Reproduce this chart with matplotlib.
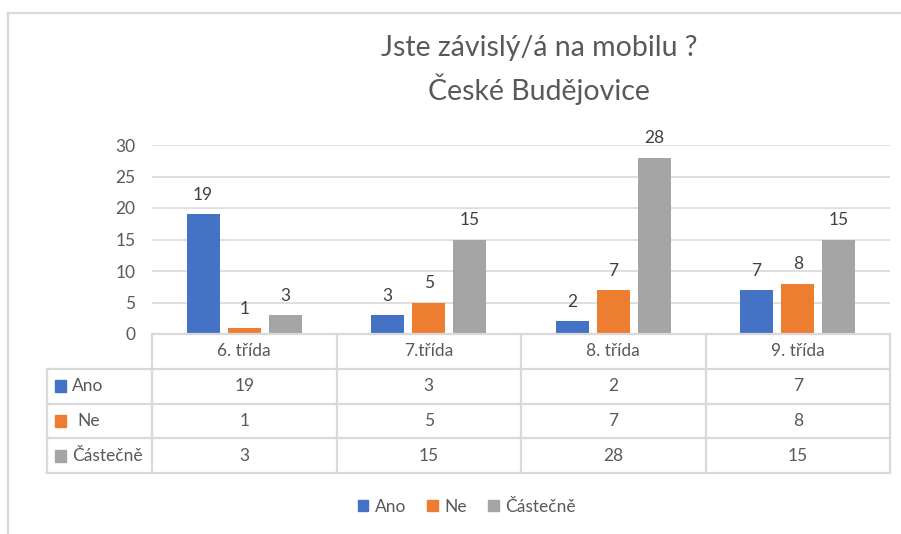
import matplotlib
matplotlib.use("Agg")
import matplotlib.pyplot as plt
from matplotlib.patches import Patch, Rectangle
from matplotlib.lines import Line2D
import numpy as np

categories = ["6. třída", "7.třída", "8. třída", "9. třída"]
series_names = ["Ano", "Ne", "Částečně"]
ano = [19, 3, 2, 7]
ne = [1, 5, 7, 8]
castecne = [3, 15, 28, 15]
yticks = [0, 5, 10, 15, 20, 25, 30]
title = "Jste závislý/á na mobilu ?\nČeské Budějovice"

colors = ["#4472C4", "#ED7D31", "#A5A5A5"]
txt = "#595959"
grid_c = "#D9D9D9"
FONT = ["Lato", "DejaVu Sans"]
plt.rcParams["font.family"] = FONT

W, H = 901, 534
fig = plt.figure(figsize=(W / 100, H / 100), dpi=100)
fig.patch.set_facecolor("white")

def fx(px):
    return px / W

def fy(py):
    return 1 - py / H

# chart border
fig.add_artist(Line2D([fx(8), fx(8)], [fy(13), fy(534)], color=grid_c, lw=1.6, transform=fig.transFigure))
fig.add_artist(Line2D([fx(8), fx(901)], [fy(13), fy(13)], color=grid_c, lw=1.6, transform=fig.transFigure))

# bar axes
L, R, T, B = 152, 890, 145, 334
ax = fig.add_axes([fx(L), fy(B), fx(R) - fx(L), fy(T) - fy(B)])
x = np.arange(len(categories))
bw = 0.18
off = 0.223
series = [ano, ne, castecne]
for i, (vals, c) in enumerate(zip(series, colors)):
    bars = ax.bar(x + (i - 1) * off, vals, bw, color=c, zorder=3)
    for b, v in zip(bars, vals):
        ax.annotate(str(v), (b.get_x() + b.get_width() / 2, v), xytext=(0, 8),
                    textcoords="offset points", ha="center", va="bottom",
                    fontsize=12.5, color="#404040")
ax.set_xlim(-0.5, len(categories) - 0.5)
ax.set_ylim(0, 30)
ax.set_yticks(yticks)
ax.set_yticklabels([str(t) for t in yticks], fontsize=12.5, color=txt)
ax.tick_params(axis="y", length=0, pad=12)
ax.set_xticks([])
for s in ax.spines.values():
    s.set_visible(False)
ax.grid(axis="y", color=grid_c, lw=1.2, zorder=0)
ax.set_axisbelow(True)

# table axes
TL, TR, TT, TB = 47, 890, 334, 473
tax = fig.add_axes([fx(TL), fy(TB), fx(TR) - fx(TL), fy(TT) - fy(TB)])
span = len(categories)
left_lim = -0.5 - span * (L - TL) / (R - L)
tax.set_xlim(left_lim, len(categories) - 0.5)
nrows = len(series_names) + 1
tax.set_ylim(nrows, 0)
tax.axis("off")
lc = dict(color=grid_c, lw=1.6, clip_on=False)
# horizontal lines
tax.plot([-0.5, len(categories) - 0.5], [0, 0], **lc)
for r in range(1, nrows + 1):
    tax.plot([left_lim, len(categories) - 0.5], [r, r], **lc)
# vertical lines
tax.plot([left_lim, left_lim], [1, nrows], **lc)
for k in range(len(categories) + 1):
    tax.plot([k - 0.5, k - 0.5], [0, nrows], **lc)
for j, cat in enumerate(categories):
    tax.text(j, 0.5, cat, ha="center", va="center", fontsize=12.5, color=txt)
for r, (name, vals, c) in enumerate(zip(series_names, series, colors)):
    yy = r + 1.5
    tax.add_patch(Rectangle((left_lim + 0.045, yy - 0.17), 0.06, 0.34, color=c, clip_on=False))
    tax.text(left_lim + 0.135 + (0.03 if name == "Ne" else 0), yy, name, ha="left", va="center",
             fontsize=12.5, color=txt)
    for j, v in enumerate(vals):
        tax.text(j, yy, str(v), ha="center", va="center", fontsize=12.5, color=txt)

# legend
handles = [Patch(facecolor=c, edgecolor=c) for c in colors]
fig.legend(handles, series_names, loc="center", bbox_to_anchor=(fx(467), fy(507)),
           ncol=3, frameon=False, fontsize=12.5, labelcolor=txt,
           handlelength=0.6, handleheight=0.6, handletextpad=0.4, columnspacing=1.2)

# title
fig.text(fx(539), fy(70), title, ha="center", va="center", fontsize=20.5,
         color=txt, linespacing=1.45)

fig.savefig("out.png", dpi=100, facecolor="white")
